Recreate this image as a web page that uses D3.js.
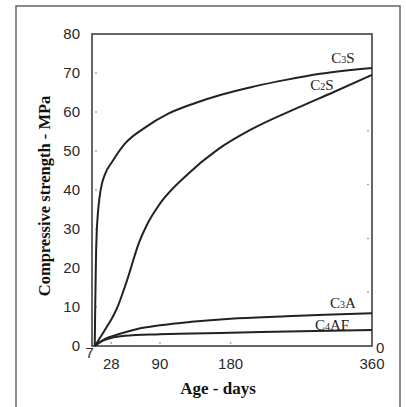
<!DOCTYPE html>
<html>
<head>
<meta charset="utf-8">
<script src="https://cdn.jsdelivr.net/npm/d3@7"></script>
<style>
  body { margin: 0; background: #fff; }
  svg { display: block; }
</style>
</head>
<body>
<div id="chart"></div>
<script>
// age in days / compressive strength in MPa
var c3sDays = [7, 7.6, 8.5, 9.5, 11, 13, 16, 20, 30, 46, 71, 100, 135, 169, 209, 252, 294, 360];
var c3sMpa  = [0, 10, 22, 29, 34, 38, 41.5, 44, 47.5, 52, 56, 59.5, 62.3, 64.5, 66.5, 68.3, 69.8, 71.3];

var c2sDays = [7, 15, 22, 30, 37, 43, 50, 56, 63, 74, 90, 125, 163, 205, 268, 310, 360];
var c2sMpa  = [0, 2.5, 4.8, 7.5, 10.5, 13.8, 18, 22, 26.3, 31.3, 36.5, 44, 50.3, 55.4, 61.3, 65, 69.5];

var c3aDays = [7, 20, 37, 60, 90, 130, 180, 250, 300, 360];
var c3aMpa  = [0, 1.8, 3.0, 4.3, 5.3, 6.2, 7.0, 7.6, 8.0, 8.4];

var c4afDays = [7, 14, 20, 30, 45, 90, 180, 270, 360];
var c4afMpa  = [0, 1.0, 1.6, 2.2, 2.6, 3.0, 3.4, 3.8, 4.1];

var yTicks = [0, 10, 20, 30, 40, 50, 60, 70, 80];
var xTicks = [7, 28, 90, 180, 360];
var rightTicks = [0, 1, 2, 3, 4, 5];

var series = [
    { name: "C", sub: "3", tail: "S",  days: c3sDays,  mpa: c3sMpa,  lx: 343, ly: 63 },
    { name: "C", sub: "2", tail: "S",  days: c2sDays,  mpa: c2sMpa,  lx: 322, ly: 90 },
    { name: "C", sub: "3", tail: "A",  days: c3aDays,  mpa: c3aMpa,  lx: 343, ly: 308 },
    { name: "C", sub: "4", tail: "AF", days: c4afDays, mpa: c4afMpa, lx: 332, ly: 330 }
];

var WIDTH = 406, HEIGHT = 407;
var LEFT = 92, TOP = 34, RIGHT = 372, BOTTOM = 346;

var svg = d3.select("#chart").append("svg")
    .attr("width", WIDTH)
    .attr("height", HEIGHT);

// outer frame
svg.append("rect")
    .attr("x", 16).attr("y", 6)
    .attr("width", 384).attr("height", 420)
    .attr("fill", "none")
    .attr("stroke", "#666")
    .attr("stroke-width", 1.5);

var x = d3.scaleLinear().domain([3.5, 360]).range([LEFT, RIGHT]);
var y = d3.scaleLinear().domain([0, 80]).range([BOTTOM, TOP]);
var yRight = d3.scaleLinear().domain([0, 5.8]).range([BOTTOM, TOP]);

// small inner ticks
svg.append("g").selectAll("line")
    .data(yTicks.slice(1, 8)).enter().append("line")
    .attr("x1", LEFT + 3).attr("x2", LEFT + 5)
    .attr("y1", function (d) { return y(d); })
    .attr("y2", function (d) { return y(d); })
    .attr("stroke", "#aaa").attr("stroke-width", 1.5);

svg.append("g").selectAll("line")
    .data(rightTicks.slice(1)).enter().append("line")
    .attr("x1", RIGHT - 5).attr("x2", RIGHT - 3)
    .attr("y1", function (d) { return yRight(d); })
    .attr("y2", function (d) { return yRight(d); })
    .attr("stroke", "#aaa").attr("stroke-width", 1.5);

svg.append("g").selectAll("line")
    .data(xTicks.slice(1, 4)).enter().append("line")
    .attr("x1", function (d) { return x(d); })
    .attr("x2", function (d) { return x(d); })
    .attr("y1", BOTTOM - 4).attr("y2", BOTTOM - 2)
    .attr("stroke", "#aaa").attr("stroke-width", 1.5);

// plot frame
svg.append("rect")
    .attr("x", LEFT).attr("y", TOP)
    .attr("width", RIGHT - LEFT).attr("height", BOTTOM - TOP)
    .attr("fill", "none")
    .attr("stroke", "#333")
    .attr("stroke-width", 1.5);

// tick labels
svg.append("g").selectAll("text")
    .data(yTicks).enter().append("text")
    .attr("x", 80)
    .attr("y", function (d) { return y(d); })
    .attr("dy", "0.36em")
    .attr("text-anchor", "end")
    .attr("font-family", "Liberation Sans, Arial, sans-serif")
    .attr("font-size", 15)
    .attr("fill", "#2a2a2a")
    .text(function (d) { return d; });

svg.append("g").selectAll("text")
    .data(xTicks).enter().append("text")
    .attr("x", function (d) { return d === 7 ? x(d) - 5 : x(d); })
    .attr("y", function (d) { return d === 7 ? 358 : 369; })
    .attr("text-anchor", "middle")
    .attr("font-family", "Liberation Sans, Arial, sans-serif")
    .attr("font-size", 15)
    .attr("fill", "#2a2a2a")
    .text(function (d) { return d; });

svg.append("text")
    .attr("x", RIGHT + 4)
    .attr("y", yRight(0) + 2)
    .attr("dy", "0.36em")
    .attr("font-family", "Liberation Sans, Arial, sans-serif")
    .attr("font-size", 15)
    .attr("fill", "#2a2a2a")
    .text(rightTicks[0]);

// axis titles
svg.append("text")
    .attr("transform", "translate(50," + ((TOP + BOTTOM) / 2 + 6) + ") rotate(-90)")
    .attr("text-anchor", "middle")
    .attr("font-family", "Liberation Serif, Times New Roman, serif")
    .attr("font-weight", "bold")
    .attr("font-size", 16.5)
    .attr("fill", "#111")
    .text("Compressive strength - MPa");

svg.append("text")
    .attr("x", 218).attr("y", 394)
    .attr("text-anchor", "middle")
    .attr("font-family", "Liberation Serif, Times New Roman, serif")
    .attr("font-weight", "bold")
    .attr("font-size", 17)
    .attr("fill", "#111")
    .text("Age - days");

// curves
var line = d3.line()
    .x(function (d) { return x(d[0]); })
    .y(function (d) { return y(d[1]); })
    .curve(d3.curveMonotoneX);

series.forEach(function (s) {
    var pts = s.days.map(function (d, i) { return [d, s.mpa[i]]; });
    svg.append("path")
        .attr("d", line(pts))
        .attr("fill", "none")
        .attr("stroke", "#222")
        .attr("stroke-width", 2);

    var t = svg.append("text")
        .attr("x", s.lx).attr("y", s.ly)
        .attr("text-anchor", "middle")
        .attr("font-family", "Liberation Serif, Times New Roman, serif")
        .attr("font-size", 15)
        .attr("fill", "#222");
    t.append("tspan").text(s.name);
    t.append("tspan").attr("font-size", 10).text(s.sub);
    t.append("tspan").text(s.tail);
});
</script>
</body>
</html>
